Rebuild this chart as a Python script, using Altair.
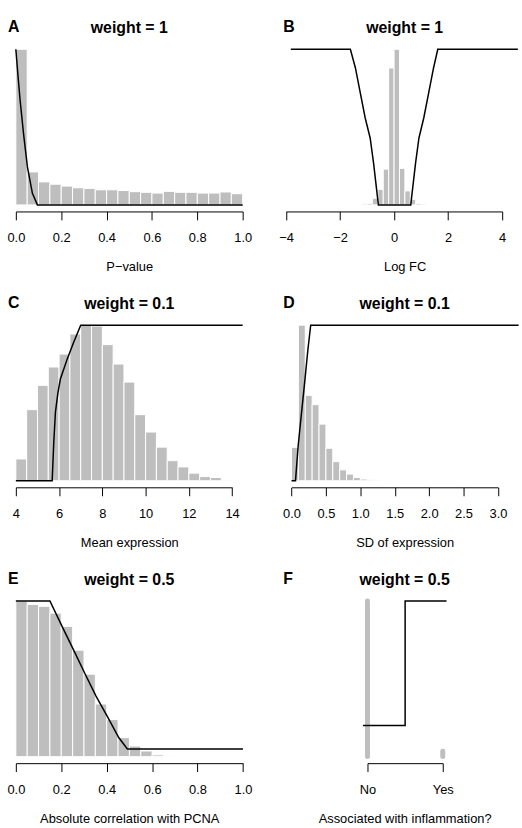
import altair as alt
import pandas as pd

FONT = "Liberation Sans"
GRAY = "#BEBEBE"

panel_letters = ["A", "B", "C", "D", "E", "F"]
panel_titles = ["weight = 1", "weight = 1", "weight = 0.1", "weight = 0.1", "weight = 0.5", "weight = 0.5"]
axis_titles = ["P\u2212value", "Log FC", "Mean expression", "SD of expression",
               "Absolute correlation with PCNA", "Associated with inflammation?"]

# A: P-value
pval_bin_start, pval_bin_width = 0.0, 0.05
pval_heights = [1.0, 0.212, 0.148, 0.133, 0.121, 0.110, 0.106, 0.097, 0.097, 0.093,
                0.085, 0.081, 0.076, 0.087, 0.081, 0.081, 0.076, 0.076, 0.083, 0.072]
pval_curve_x = [0.0, 0.01, 0.019, 0.034, 0.051, 0.073, 0.095, 1.0]
pval_curve_y = [1.0, 0.82, 0.669, 0.456, 0.244, 0.074, 0.0, 0.0]
pval_ticks = [0.0, 0.2, 0.4, 0.6, 0.8, 1.0]

# B: Log FC
lfc_bin_start, lfc_bin_width = -1.2, 0.2
lfc_heights = [0.006, 0.01, 0.043, 0.10, 0.23, 0.88, 1.0, 0.235, 0.09, 0.036, 0.01, 0.005]
lfc_curve_x = [-3.82, -1.617, -1.43, -1.25, -1.07, -0.885, -0.76, -0.68, -0.62, -0.581,
               0.617, 0.656, 0.716, 0.796, 0.92, 1.10, 1.28, 1.46, 1.617, 4.58]
lfc_curve_y = [1.0, 1.0, 0.88, 0.72, 0.56, 0.43, 0.27, 0.15, 0.06, 0.0,
               0.0, 0.06, 0.15, 0.27, 0.43, 0.56, 0.72, 0.88, 1.0, 1.0]
lfc_ticks = [-4, -2, 0, 2, 4]

# C: Mean expression
mean_bin_start, mean_bin_width = 4.0, 0.5
mean_heights = [0.14, 0.457, 0.613, 0.731, 0.814, 0.943, 1.0, 0.994, 0.875, 0.75,
                0.634, 0.425, 0.313, 0.216, 0.129, 0.089, 0.049, 0.027, 0.021, 0.004]
mean_curve_x = [4.0, 5.68, 5.755, 5.83, 5.94, 6.06, 6.37, 6.67, 7.0, 14.49]
mean_curve_y = [0.0, 0.0, 0.25, 0.44, 0.56, 0.654, 0.78, 0.888, 1.0, 1.0]
mean_ticks = [4, 6, 8, 10, 12, 14]

# D: SD of expression
sd_bin_start, sd_bin_width = 0.0, 0.1
sd_heights = [0.215, 1.0, 0.549, 0.489, 0.364, 0.209, 0.123, 0.070, 0.043, 0.021,
              0.011, 0.006, 0.004, 0.002]
sd_curve_x = [0.0, 0.058, 0.096, 0.144, 0.193, 0.24, 0.279, 3.3]
sd_curve_y = [0.0, 0.0, 0.22, 0.43, 0.64, 0.85, 1.0, 1.0]
sd_ticks = [0.0, 0.5, 1.0, 1.5, 2.0, 2.5, 3.0]

# E: Absolute correlation with PCNA
cor_bin_start, cor_bin_width = 0.0, 0.05
cor_heights = [1.0, 0.978, 0.966, 0.922, 0.837, 0.684, 0.53, 0.338, 0.238, 0.122,
               0.068, 0.036, 0.011, 0.004]
cor_curve_x = [0.0, 0.15, 0.203, 0.254, 0.305, 0.353, 0.402, 0.453, 0.491, 1.0]
cor_curve_y = [1.0, 1.0, 0.839, 0.686, 0.531, 0.389, 0.26, 0.123, 0.049, 0.049]
cor_ticks = [0.0, 0.2, 0.4, 0.6, 0.8, 1.0]

# F: Associated with inflammation?
infl_categories = ["No", "Yes"]
infl_positions = [0, 1]
infl_heights = [1.0, 0.035]
infl_curve_x = [-0.06, 0.5, 0.5, 1.05]
infl_curve_y = [0.2, 0.2, 1.0, 1.0]

# ---------------- layout (style only) ----------------
W, H = 229, 170
YDOM = [-0.042, 1.04]
TITLE_CX = 114.5
LETTER_X = -8


def bars_df(start, width, heights):
    rows = []
    for i, h in enumerate(heights):
        lo = start + i * width
        rows.append({"lo": lo, "hi": lo + width, "h": h, "base": 0.0})
    return pd.DataFrame(rows)


def line_df(xs, ys):
    return pd.DataFrame({"x": xs, "y": ys, "k": list(range(len(xs)))})


def panel(idx, bars, line, ticks, fmt, domain, xrange, label_expr=None, rule_bars=False):
    xs = alt.Scale(domain=domain, range=xrange, nice=False, zero=False)
    ys = alt.Scale(domain=YDOM, nice=False, zero=False)
    akw = dict(values=ticks, title=axis_titles[idx], titleX=TITLE_CX, titleY=59.5,
               titleBaseline="alphabetic", titleAlign="center")
    if fmt:
        akw["format"] = fmt
    if label_expr:
        akw["labelExpr"] = label_expr
    ax = alt.Axis(**akw)
    if rule_bars:
        b = alt.Chart(bars).mark_rule(color=GRAY, strokeWidth=5, strokeCap="round").encode(
            x=alt.X("pos:Q", scale=xs, axis=ax),
            y=alt.Y("h:Q", scale=ys, axis=None),
            y2="base:Q",
        )
    else:
        b = alt.Chart(bars).mark_rect(color=GRAY, stroke="white", strokeWidth=1).encode(
            x=alt.X("lo:Q", scale=xs, axis=ax),
            x2="hi:Q",
            y=alt.Y("h:Q", scale=ys, axis=None),
            y2="base:Q",
        )
    ln = alt.Chart(line).mark_line(color="black", strokeWidth=1.5).encode(
        x=alt.X("x:Q", scale=xs, axis=ax),
        y=alt.Y("y:Q", scale=ys, axis=None),
        order="k:Q",
    )
    lab = pd.DataFrame({"letter": [panel_letters[idx]], "title": [panel_titles[idx]]})
    t1 = alt.Chart(lab).mark_text(font=FONT, fontSize=16, fontWeight="bold", align="left",
                                  baseline="alphabetic", color="black").encode(
        text="letter:N", x=alt.value(LETTER_X), y=alt.value(-11))
    t2 = alt.Chart(lab).mark_text(font=FONT, fontSize=16, fontWeight="bold", align="center",
                                  baseline="alphabetic", color="black").encode(
        text="title:N", x=alt.value(TITLE_CX), y=alt.value(-10))
    return alt.layer(b, ln, t1, t2).properties(width=W, height=H)


pA = panel(0, bars_df(pval_bin_start, pval_bin_width, pval_heights),
           line_df(pval_curve_x, pval_curve_y), pval_ticks, ".1f", [0, 1], [0, 229])
pB = panel(1, bars_df(lfc_bin_start, lfc_bin_width, lfc_heights),
           line_df(lfc_curve_x, lfc_curve_y), lfc_ticks, "d", [-4, 4], [-5.3, 213])
pC = panel(2, bars_df(mean_bin_start, mean_bin_width, mean_heights),
           line_df(mean_curve_x, mean_curve_y), mean_ticks, "d", [4, 14], [0, 218.3])
pD = panel(3, bars_df(sd_bin_start, sd_bin_width, sd_heights),
           line_df(sd_curve_x, sd_curve_y), sd_ticks, ".1f", [0, 3], [0.3, 208.7])
pE = panel(4, bars_df(cor_bin_start, cor_bin_width, cor_heights),
           line_df(cor_curve_x, cor_curve_y), cor_ticks, ".1f", [0, 1], [0, 229.3])

infl_bars = pd.DataFrame({"pos": infl_positions, "h": infl_heights,
                          "base": [0.0] * len(infl_heights)})
infl_expr = "datum.value == 0 ? '%s' : '%s'" % (infl_categories[0], infl_categories[1])
pF = panel(5, infl_bars, line_df(infl_curve_x, infl_curve_y), infl_positions, None,
           [0, 1], [77, 153], label_expr=infl_expr, rule_bars=True)

chart = alt.concat(
    pA, pB, pC, pD, pE, pF, columns=2,
    spacing=alt.RowColnumber(column=49, row=108.5), bounds="flush",
).properties(
    padding={"left": 6, "top": 15.5, "right": 0, "bottom": 0},
    autosize=alt.AutoSizeParams(type="pad"),
    background="white",
).configure_view(stroke=None).configure_axis(
    labelFont=FONT, titleFont=FONT, labelFontSize=13, titleFontSize=13,
    titleFontWeight="normal", labelColor="black", titleColor="black",
    domainColor="black", tickColor="black", tickSize=8.5, labelPadding=21.8,
    labelBaseline="alphabetic", grid=False, labelFlush=False, labelOverlap=False,
    domainWidth=1, tickWidth=1,
)

chart.save("out.html", embed_options={"renderer": "svg", "actions": False})
